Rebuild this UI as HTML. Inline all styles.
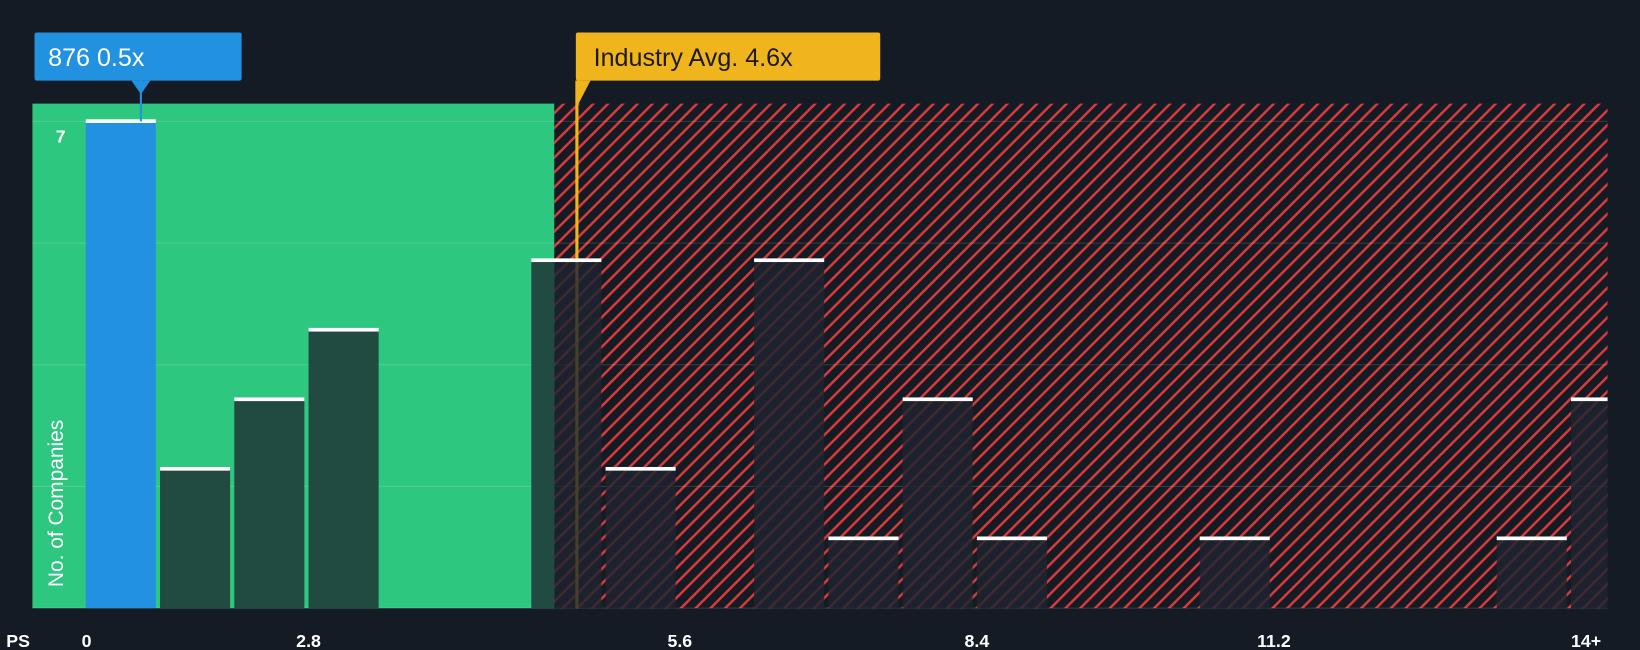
<!DOCTYPE html>
<html><head><meta charset="utf-8"><style>
html,body{margin:0;padding:0;background:#151b24;}
svg{display:block;font-family:"Liberation Sans",sans-serif;}
</style></head><body>
<svg id="chart" width="1640" height="650" viewBox="0 0 1568 621" preserveAspectRatio="none" xmlns="http://www.w3.org/2000/svg">
<defs>
<pattern id="hatch" patternUnits="userSpaceOnUse" width="10" height="10" patternTransform="rotate(45)">
<rect width="10" height="10" fill="#151b24"/>
<rect x="0" y="0" width="2.4" height="10" fill="#d63a3a"/>
</pattern>
</defs>
<rect width="1568" height="621" fill="#151b24"/>
<g id="bg"></g>
<g id="grid"></g>
<g id="ann"></g>
<g id="bars"></g>
<g id="ann2"></g>
<g id="axis"></g>
</svg>
<script>
const binStarts = [0,0.7,1.4,2.1,2.8,3.5,4.2,4.9,5.6,6.3,7.0,7.7,8.4,9.1,9.8,10.5,11.2,11.9,12.6,13.3,14.0];
const counts = [7,2,3,4,0,0,5,2,0,5,1,3,1,0,0,1,0,0,0,1,3];
const tickValues = [0,2.1,5.6,8.4,11.2,14];
const tickLabels = ["0","2.8","5.6","8.4","11.2","14+"];
const yTicks = [0,1.75,3.5,5.25,7];
const companyValue = 0.5;
const industryAvg = 4.6;
const binW = 0.7;

const NS="http://www.w3.org/2000/svg";
const X0=82, PX=71/0.7, Y0=581, PY=66.43;
const xs=v=>X0+v*PX, ys=v=>Y0-v*PY;
function mk(tag,attrs,parent,text){const e=document.createElementNS(NS,tag);for(const k in attrs)e.setAttribute(k,attrs[k]);if(text!==undefined)e.textContent=text;parent.appendChild(e);return e;}
const bg=document.getElementById('bg'),grid=document.getElementById('grid'),bars=document.getElementById('bars'),ann=document.getElementById('ann'),ann2=document.getElementById('ann2'),axis=document.getElementById('axis');
const splitX=530;
let g=mk('rect',{x:31,y:99,width:splitX-31,height:Y0-99,fill:'#2ec77f'},bg);


let h=mk('rect',{x:splitX,y:99,width:1537-splitX,height:Y0-99,fill:'url(#hatch)'},bg);


yTicks.forEach(t=>{let l=mk('line',{x1:31,x2:1537,y1:ys(t),y2:ys(t),stroke:'rgba(255,255,255,0.15)','stroke-width':1},grid);

});
binStarts.forEach((b,i)=>{const c=counts[i];if(!c)return;
const x=xs(b),w=binW*PX-4,y=ys(c);
let fill;const isCo=companyValue>=b&&companyValue<b+binW;
if(isCo)fill='#2191e0';else if(x+w<=splitX)fill='#214a40';else fill='rgba(30,36,48,0.82)';
if(!isCo&&x<splitX&&x+w>splitX){
let r0=mk('rect',{x:x,y:y,width:splitX-x,height:Y0-y,fill:'#214a40'},bars);


}
let rx=(!isCo&&x<splitX&&x+w>splitX)?splitX:x;
let r=mk('rect',{x:rx,y:y,width:Math.min(x+w,1537)-rx,height:Y0-y,fill:fill},bars);


let cap=mk('rect',{x:x,y:y-2,width:Math.min(w,1537-x),height:3.5,fill:'#fff'},bars);


});
const ax=xs(industryAvg)+3;
let il=mk('rect',{x:ax-1.5,y:77,width:3,height:Y0-77,fill:'#f0b41c'},ann);


let ip=mk('polygon',{points:`${ax-1},77 ${ax+13},77 ${ax-1},104`,fill:'#f0b41c'},ann2);


let ib=mk('rect',{x:ax-1,y:31,width:291,height:46,rx:2,fill:'#f0b41c'},ann2);


let it=mk('text',{x:ax+16,y:63,'font-size':24,fill:'#1a1a1a'},ann2,'Industry Avg. '+industryAvg+'x');


const cx=xs(companyValue)+2;
let cl=mk('rect',{x:cx-1,y:77,width:2,height:ys(7)-77,fill:'#2191e0'},ann2);


let cpt=mk('polygon',{points:`${cx-9},77 ${cx+9},77 ${cx},90`,fill:'#2191e0'},ann2);


let cb=mk('rect',{x:33,y:31,width:198,height:46,rx:2,fill:'#2191e0'},ann2);


let ct=mk('text',{x:46,y:63,'font-size':24,fill:'#fff'},ann2,'876 '+companyValue+'x');


let yl=mk('text',{x:58,y:136,'font-size':17,'font-weight':'bold',fill:'#fff','text-anchor':'middle'},axis,'7');


let yt=mk('text',{x:0,y:0,'font-size':20,fill:'#fff','text-anchor':'middle',transform:'translate(60,481) rotate(-90)'},axis,'No. of Companies');


let ps=mk('text',{x:6,y:618,'font-size':17,'font-weight':'bold',fill:'#fff'},axis,'PS');


tickValues.forEach((t,i)=>{const x=xs(t);const lbl=tickLabels[i];
let anchor=i===0?'start':(i===tickValues.length-1?'start':'middle');
let tx=mk('text',{x:i===0?x-4:x,y:618,'font-size':17,'font-weight':'bold',fill:'#fff','text-anchor':anchor},axis,lbl);

});
</script>
</body></html>
